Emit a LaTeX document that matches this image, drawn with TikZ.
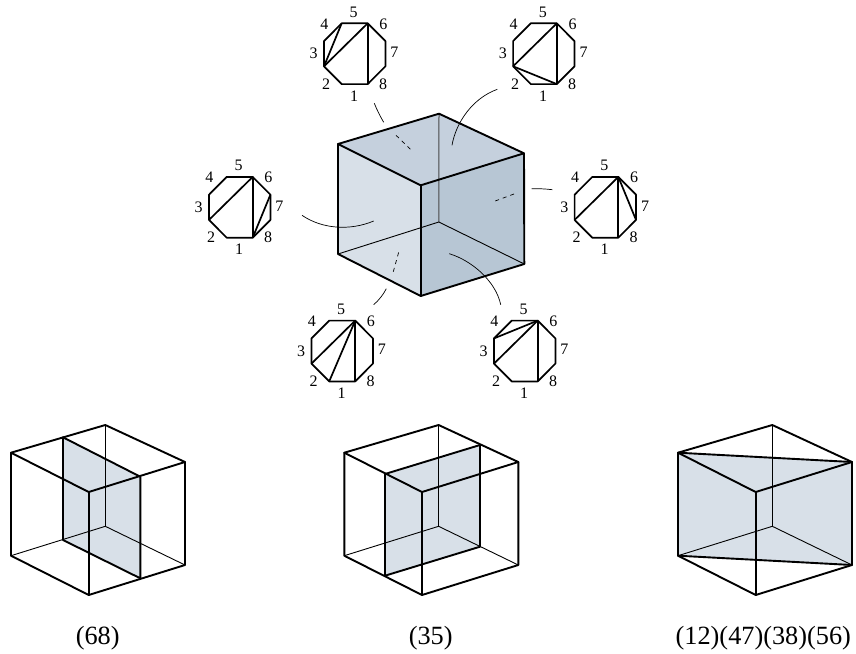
\documentclass[tikz,border=0pt]{standalone}
\usepackage{fontspec}
\setmainfont{Liberation Serif}
\definecolor{faceL}{HTML}{D8E0E8}
\definecolor{faceT}{HTML}{C5D0DD}
\definecolor{faceR}{HTML}{B7C6D4}
\tikzset{
  thick edge/.style={line width=1.9pt,line join=round,line cap=round,black},
  thin edge/.style={line width=0.9pt,black},
  grey edge/.style={line width=1pt,black!72},
  lead/.style={line width=0.7pt,black},
  dash lead/.style={line width=0.7pt,black,dash pattern=on 4pt off 4pt},
  chord/.style={line width=1.7pt,line join=round,black},
  vlabel/.style={inner sep=0pt,font=\fontsize{16}{16}\selectfont},
  caption/.style={inner sep=0pt,font=\fontsize{26.3}{26.3}\selectfont}
}
% polygon of triangulation: prefix, centre x, centre y, list of chords
\newcommand{\triangpoly}[4]{%
  \begin{scope}[shift={(#2,#3)},name prefix=#1-]
    \coordinate (a) at (-13,-30.4);
    \coordinate (b) at (13,-30.4);
    \coordinate (c) at (30.7,-12.6);
    \coordinate (d) at (30.7,12.6);
    \coordinate (e) at (13,30.4);
    \coordinate (f) at (-13,30.4);
    \coordinate (g) at (-30.7,12.6);
    \coordinate (h) at (-30.7,-12.6);
    \draw[chord] (a)--(b)--(c)--(d)--(e)--(f)--(g)--(h)--cycle;
    \foreach \p/\q in {#4} {\draw[chord] (\p)--(\q);}
    \node[vlabel] (n5) at (-1,-41.7) {5};
    \node[vlabel] (n6) at (28.7,-29.7) {6};
    \node[vlabel] (n7) at (39.7,-1.3) {7};
    \node[vlabel] (n8) at (28.3,30.3) {8};
    \node[vlabel] (n1) at (-0.7,42.3) {1};
    \node[vlabel] (n2) at (-28.7,30.3) {2};
    \node[vlabel] (n3) at (-41,0) {3};
    \node[vlabel] (n4) at (-30.3,-29.7) {4};
  \end{scope}}
% corners of a small cube
\newcommand{\cubecorners}[2]{%
  \coordinate (#1A) at (#2,452.7);
  \coordinate (#1B) at (#2+94.3,425);
  \coordinate (#1R) at (#2+174,462);
  \coordinate (#1F) at (#2+77.7,492);
  \coordinate (#1a) at (#2,555.7);
  \coordinate (#1b) at (#2+94.3,526.3);
  \coordinate (#1r) at (#2+174,565);
  \coordinate (#1f) at (#2+77.7,595);}
\newcommand{\cubethin}[1]{%
  \draw[thin edge] (#1B)--(#1b);
  \draw[thin edge] (#1a)--(#1b)--(#1r);}
\newcommand{\cubethick}[1]{%
  \draw[thick edge] (#1A)--(#1B)--(#1R)--(#1F)--cycle;
  \draw[thick edge] (#1A)--(#1a)--(#1f)--(#1r)--(#1R);
  \draw[thick edge] (#1F)--(#1f);}
\begin{document}
\begin{tikzpicture}[x=1pt,y=-1pt]
\useasboundingbox (0,0) rectangle (856,653);

% main cube
\coordinate (A) at (338,144);
\coordinate (B) at (439,113.7);
\coordinate (R) at (524,153.3);
\coordinate (F) at (420.7,185.3);
\coordinate (a) at (338,254);
\coordinate (b) at (438.8,222);
\coordinate (r) at (524.3,264);
\coordinate (f) at (420.7,296);
\fill[faceL] (A)--(F)--(f)--(a)--cycle;
\fill[faceT] (A)--(B)--(R)--(F)--cycle;
\fill[faceR] (F)--(R)--(r)--(f)--cycle;
\draw[grey edge] (B)--(b);
\draw[thin edge] (a)--(b)--(r);

% polygons
\triangpoly{TL}{354.7}{53.7}{g/a,g/b,b/e}
\triangpoly{TR}{543.8}{53.7}{g/b,b/e,g/e}
\triangpoly{LL}{239.7}{207.3}{g/b,b/e,e/c}
\triangpoly{RR}{605.3}{207.3}{g/b,b/e,b/d}
\triangpoly{BL}{342.2}{351}{g/b,b/e,b/f}
\triangpoly{BR}{524.7}{351}{h/b,g/b,b/e}

% leaders
\coordinate (l1s) at (374.3,103.3);
\coordinate (l1e) at (383.7,122.3);
\coordinate (l1p) at (396,135.3);
\coordinate (l1q) at (412,150.7);
\draw[lead] (l1s) .. controls (377,110) and (380,116) .. (l1e);
\draw[dash lead] (l1p)--(l1q);
\coordinate (l2s) at (497.3,89.3);
\coordinate (l2e) at (452,145.3);
\draw[lead] (l2s) .. controls (473,98) and (456,122) .. (l2e);
\coordinate (l3s) at (531.7,188.7);
\coordinate (l3e) at (552.3,189.7);
\coordinate (l3p) at (514,194);
\coordinate (l3q) at (493.3,201.7);
\draw[lead] (l3s) .. controls (538,188.6) and (545,188.8) .. (l3e);
\draw[dash lead] (l3p)--(l3q);
\coordinate (l4s) at (302,215.3);
\coordinate (l4e) at (373.7,221);
\draw[lead] (l4s) .. controls (322,229) and (350,231) .. (l4e);
\coordinate (l5s) at (373.7,304.7);
\coordinate (l5e) at (386.3,288.7);
\coordinate (l5p) at (393.3,271.7);
\coordinate (l5q) at (399.3,250);
\draw[lead] (l5s) .. controls (379,300) and (383,295) .. (l5e);
\draw[dash lead] (l5p)--(l5q);
\coordinate (l6s) at (500.7,304.7);
\coordinate (l6e) at (449.3,253.7);
\draw[lead] (l6s) .. controls (496,282) and (473,261) .. (l6e);

\draw[thick edge] (A)--(B)--(R)--(F)--cycle;
\draw[thick edge] (A)--(a)--(f)--(r)--(R);
\draw[thick edge] (F)--(f);

% cube (68)
\cubecorners{p}{11}
\coordinate (pu) at (63,437.3);
\coordinate (pv) at (140.3,476.7);
\coordinate (pw) at (140.3,578.3);
\coordinate (px) at (63,540);
\fill[faceL] (pu)--(pv)--(pw)--(px)--cycle;
\cubethin{p}
\draw[thick edge] (pu)--(pv)--(pw)--(px)--cycle;
\cubethick{p}

% cube (35)
\cubecorners{q}{344.3}
\coordinate (qu) at (385,474);
\coordinate (qv) at (480,445);
\coordinate (qw) at (480,546.7);
\coordinate (qx) at (385,575.7);
\fill[faceL] (qu)--(qv)--(qw)--(qx)--cycle;
\cubethin{q}
\draw[thick edge] (qu)--(qv)--(qw)--(qx)--cycle;
\cubethick{q}

% cube (12)(47)(38)(56)
\cubecorners{s}{678}
\fill[faceL] (sA)--(sR)--(sr)--(sa)--cycle;
\cubethin{s}
\draw[thick edge] (sA)--(sR);
\draw[thick edge] (sa)--(sr);
\cubethick{s}

\node[caption] (c1) at (97.7,638) {(68)};
\node[caption] (c2) at (430.7,638) {(35)};
\node[caption] (c3) at (763.3,638) {(12)(47)(38)(56)};
\end{tikzpicture}
\end{document}
